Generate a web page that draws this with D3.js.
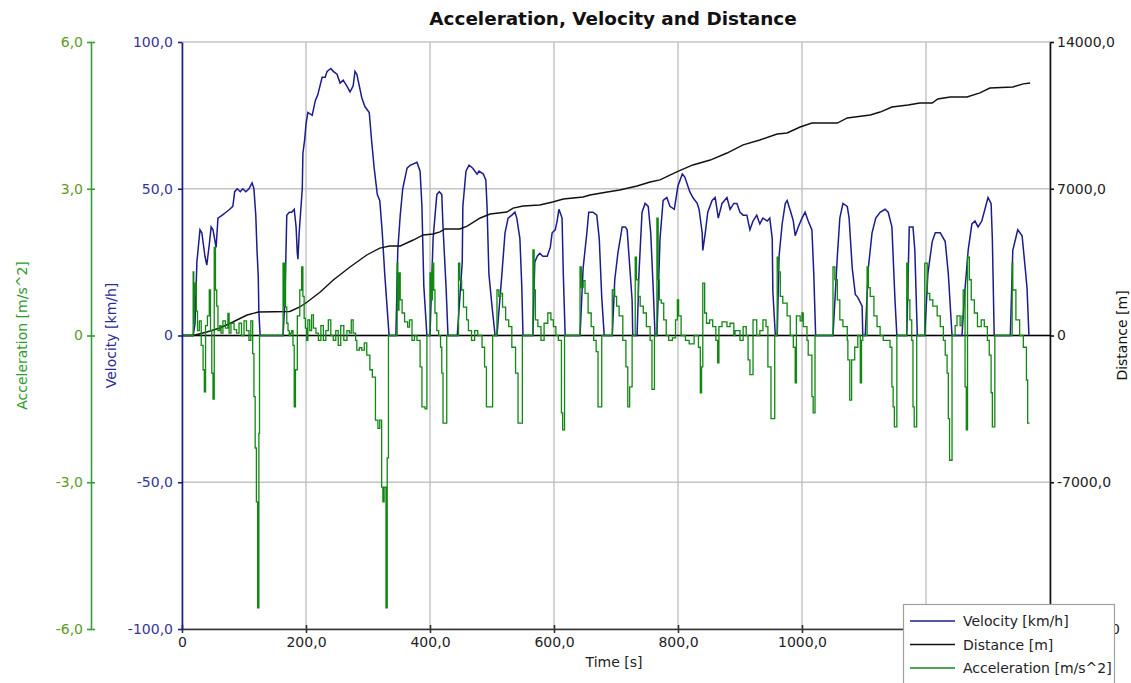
<!DOCTYPE html>
<html>
<head>
<meta charset="utf-8">
<script src="https://cdn.jsdelivr.net/npm/d3@7"></script>
<style>
  html, body { margin: 0; padding: 0; background: #fff; }
  svg { display: block; font-family: "DejaVu Sans", Verdana, sans-serif; }
</style>
</head>
<body>
<svg id="chart" width="1131" height="683"></svg>
<script>
// Tick values for each axis
const timeTicks = [0, 200, 400, 600, 800, 1000, 1200, 1400];
const timeLabelTicks = [0, 200, 400, 600, 800, 1000, 1200];
const velocityTicks = [-100, -50, 0, 50, 100];
const accelTicks = [-6, -3, 0, 3, 6];
const distanceTicks = [-14000, -7000, 0, 7000, 14000];

// Velocity [km/h] over time [s]
const velocity = [
  [0,0],[18,0],[21,4],[24,25],[29,36],[32,35],[37,27],[40,24],[44,31],[47,37],[50,36],[55,30],[58,40],[65,41],[71,42],[77,43],[82,44],[85,49],[89,50],[94,49],[98,50],[103,49],[108,50],[113,52],[116,50],[119,41],[121,29],[123,20],[124,8],[126,0],
  [163,0],[166,12],[169,41],[173,42],[177,42],[181,43],[184,37],[186,28],[187,26],[189,35],[194,50],[195,62],[198,67],[200,72],[203,76],[210,75],[215,80],[219,82],[226,88],[231,88],[234,90],[240,91],[244,90],[250,89],[255,86],[260,87],[266,85],[271,83],[276,85],[279,90],[282,89],[286,85],[290,81],[295,78],[302,76],[306,66],[310,57],[315,48],[319,46],[323,35],[327,21],[331,9],[334,0],
  [345,0],[348,29],[352,41],[356,50],[363,57],[368,58],[379,59],[384,56],[387,44],[390,17],[395,0],
  [400,0],[405,33],[411,48],[415,49],[419,48],[421,37],[426,16],[429,0],
  [444,0],[452,25],[453,44],[458,56],[463,58],[469,57],[476,55],[479,56],[486,55],[490,53],[492,44],[495,21],[500,10],[505,0],
  [508,0],[516,21],[521,35],[526,40],[532,41],[537,42],[540,40],[545,33],[548,17],[550,0],
  [566,0],[569,25],[573,27],[577,28],[582,27],[589,27],[594,30],[597,35],[602,36],[605,39],[608,43],[613,40],[615,21],[618,0],
  [642,0],[647,23],[653,35],[656,42],[663,42],[669,41],[673,33],[677,13],[681,0],
  [694,0],[698,19],[703,28],[710,37],[715,37],[718,36],[721,27],[726,12],[727,0],
  [734,0],[737,21],[742,42],[747,45],[752,44],[756,35],[760,16],[763,0],
  [766,0],[771,33],[776,46],[782,47],[787,44],[794,43],[800,51],[807,55],[811,54],[819,49],[824,47],[831,45],[834,43],[839,35],[840,29],[844,35],[848,42],[855,46],[860,47],[865,40],[871,45],[879,47],[884,43],[890,45],[895,45],[900,42],[905,41],[911,41],[916,36],[921,39],[927,41],[932,38],[937,40],[944,39],[948,40],[952,33],[953,15],[957,0],
  [960,0],[963,27],[968,38],[973,45],[976,46],[982,42],[986,39],[989,34],[994,37],[1000,40],[1005,42],[1010,39],[1016,36],[1019,21],[1022,0],
  [1050,0],[1057,27],[1061,40],[1066,45],[1073,44],[1076,40],[1081,23],[1086,14],[1090,13],[1097,10],[1098,0],
  [1102,0],[1107,23],[1113,35],[1119,40],[1126,42],[1134,43],[1139,42],[1145,37],[1150,12],[1153,0],
  [1169,0],[1173,37],[1179,37],[1182,29],[1186,0],
  [1198,0],[1203,21],[1210,32],[1215,35],[1223,35],[1231,32],[1236,21],[1242,0],
  [1258,0],[1263,16],[1268,29],[1274,38],[1279,39],[1284,37],[1290,39],[1295,43],[1300,47],[1305,45],[1307,33],[1310,0],
  [1336,0],[1340,29],[1348,36],[1355,34],[1360,23],[1363,16],[1366,0]
];

// Distance [m] over time [s]
const distance = [
  [0,0],[18,0],[40,167],[61,358],[82,644],[105,978],[123,1120],[174,1145],[190,1360],[202,1600],[223,2075],[244,2650],[271,3270],[298,3840],[319,4170],[335,4270],[352,4270],
  [373,4555],[389,4795],[405,4840],[416,4940],[424,5080],[448,5080],[460,5220],[481,5605],[497,5795],[524,5890],[534,6080],[550,6180],[577,6225],[598,6370],[615,6510],[647,6605],[658,6700],[686,6845],[706,6940],[734,7130],[755,7320],
  [771,7420],[798,7800],[824,8135],[852,8370],[879,8705],[905,9090],[932,9325],[960,9610],[976,9660],[997,9945],[1016,10135],[1057,10135],[1073,10375],[1110,10520],[1126,10660],[1145,10900],[1171,10995],[1190,11090],[1210,11090],[1219,11280],[1239,11375],[1266,11375],[1287,11570],[1303,11805],[1340,11855],[1357,12000],[1368,12045]
];

// Acceleration [m/s^2] over time [s], held constant between samples
const acceleration = [
  [0,0],[18,1.3],[19,0.25],[20,0.87],[21,1.07],[23,0.5],[25,0.1],[28,0.3],[31,-0.2],[34,-0.7],[36,-1.15],[38,0.2],[41,0.4],[44,0.93],[46,0.1],[48,-0.77],[50,-1.3],[52,1.8],[54,0.93],[56,0.6],[58,0.1],[61,0.2],[63,0.05],[66,0.3],[70,0.15],[74,0.45],[76,0.05],[79,0.25],[84,0.12],[88,0.05],[92,0.25],[96,0],[100,0.3],[104,0.1],[108,-0.1],[111,0.3],[114,-0.37],[116,-1.25],[118,-2.3],[120,-3.4],[122,-5.57],[124,-2.0],[125,0],
  [163,1.48],[164,0.6],[165,1.48],[167,0.58],[169,0.25],[171,0.1],[173,0],[175,0.05],[177,0.1],[179,-0.2],[181,-1.46],[183,-0.7],[186,0.4],[190,0.93],[193,1.4],[195,0.8],[197,0.35],[199,0.15],[201,-0.1],[203,0.32],[206,0.1],[209,0.42],[212,0.15],[216,0.05],[220,-0.1],[224,0.2],[228,-0.1],[232,0.1],[236,0.32],[240,0],[244,-0.1],[248,0.1],[252,-0.2],[256,0.2],[261,-0.1],[266,0.1],[270,0.05],[273,0.32],[276,0.05],[280,-0.1],[282,-0.3],[286,-0.25],[290,-0.3],[294,-0.15],[298,-0.4],[303,-0.7],[307,-0.85],[312,-1.73],[316,-1.9],[319,-1.73],[322,-3.1],[324,-3.4],[326,-3.1],[329,-5.57],[331,-2.5],[333,0],
  [345,0],[347,1.48],[348,0.52],[350,1.28],[352,0.73],[355,0.46],[359,0.28],[364,0.17],[367,0.32],[371,-0.1],[375,0],[379,-0.1],[384,-0.64],[387,-1.46],[392,-1.5],[395,0],
  [400,1.28],[402,0.73],[404,1.48],[406,0.93],[408,0.46],[411,0.1],[414,0],[417,-0.24],[419,-0.77],[421,-1.79],[427,0],
  [446,1.48],[448,1.13],[451,0.93],[454,0.58],[459,0.32],[462,0.1],[467,-0.1],[472,0.1],[477,0],[484,-0.24],[488,-0.64],[491,-1.46],[501,0],
  [508,0.93],[511,0.8],[514,0.86],[517,0.58],[522,0.32],[527,0.18],[532,-0.24],[538,-0.77],[542,-1.79],[549,0],
  [566,1.75],[568,0.93],[570,0.32],[574,0.18],[579,-0.1],[584,0.25],[590,0.46],[595,0.32],[599,0.18],[603,0],[607,-0.1],[612,-1.58],[614,-1.93],[617,0],
  [642,1.4],[644,0.98],[647,1.12],[650,0.86],[655,0.46],[660,0.18],[664,-0.1],[668,-0.33],[671,-1.46],[677,0],
  [694,0.93],[698,0.8],[701,0.6],[705,0.4],[711,-0.1],[716,-0.64],[719,-1.46],[722,-1.05],[726,0],
  [731,1.6],[733,1.14],[736,0.8],[739,0.6],[744,0.46],[749,0.18],[755,-0.1],[758,-1.1],[762,0],
  [766,2.4],[768,1.14],[770,0.73],[773,0.66],[777,0.32],[781,0],[785,-0.1],[791,-0.05],[796,0.32],[799,0.73],[801,0.4],[805,0],[812,-0.1],[818,-0.17],[826,0],[833,-0.24],[836,-1.17],[838,-0.64],[840,1.07],[843,0.46],[846,0.25],[851,0.32],[856,0.18],[861,-0.1],[864,-0.56],[866,0.18],[871,0.28],[879,0.18],[884,0.25],[890,0],[892,0.1],[900,-0.1],[905,0.18],[910,0],[913,-0.5],[916,-0.8],[921,0.32],[927,0],[932,0.1],[937,0.32],[942,0.18],[945,-0.64],[950,-1.7],[956,0],
  [960,1.6],[962,1.3],[965,0.8],[969,0.66],[976,0.4],[981,0],[986,-0.24],[989,-0.97],[991,0.4],[997,0.3],[1000,0.46],[1002,0.18],[1008,-0.1],[1010,-0.4],[1016,-1.25],[1018,-1.58],[1021,0],
  [1050,1.4],[1053,1.14],[1057,0.73],[1061,0.32],[1066,0.18],[1073,-0.1],[1074,-0.5],[1077,-1.32],[1080,-0.5],[1085,-0.24],[1090,0],[1094,-0.97],[1096,-0.1],[1098,0],
  [1105,1.4],[1107,0.98],[1110,0.8],[1116,0.4],[1121,0.18],[1126,0],[1131,-0.1],[1137,-0.1],[1142,-0.24],[1145,-1.05],[1147,-1.46],[1149,-1.87],[1153,0],
  [1169,1.48],[1171,0.73],[1174,0.32],[1177,-0.1],[1179,-1.46],[1181,-1.87],[1185,0],
  [1198,1.48],[1202,0.86],[1206,0.73],[1211,0.6],[1218,0.4],[1223,0.18],[1228,-0.1],[1231,-0.4],[1234,-0.77],[1236,-1.7],[1238,-2.55],[1242,0],
  [1247,0.2],[1250,0.4],[1255,0.2],[1258,0.4],[1260,0.93],[1263,-1.05],[1265,-1.93],[1267,1.6],[1270,1.14],[1273,0.73],[1278,0.46],[1283,0.18],[1289,0.32],[1294,0.18],[1299,-0.1],[1302,-0.4],[1305,-1.17],[1307,-1.87],[1311,0],
  [1339,1.48],[1340,0.93],[1345,0.32],[1351,0],[1357,-0.24],[1362,-0.91],[1364,-1.79],[1367,-1.79]
];

const seriesNames = ["Velocity [km/h]", "Distance [m]", "Acceleration [m/s^2]"];
const seriesColors = ["#1c1c8c", "#111111", "#118811"];

// Layout
const plot = { left: 182, right: 1050, top: 42, bottom: 629 };
const accelAxisX = 91;

const svg = d3.select("#chart");

const x = d3.scaleLinear().domain([0, 1400]).range([plot.left, plot.right]);
const yVel = d3.scaleLinear().domain([-100, 100]).range([plot.bottom, plot.top]);
const yAcc = d3.scaleLinear().domain([-6, 6]).range([plot.bottom, plot.top]);
const yDist = d3.scaleLinear().domain([-14000, 14000]).range([plot.bottom, plot.top]);

const fmt = d => d === 0 ? "0" : d.toFixed(1).replace(".", ",");

// Grid
const grid = svg.append("g").attr("stroke", "#c4c4c4").attr("stroke-width", 1.5);
grid.selectAll("line.v").data(timeTicks).join("line")
  .attr("x1", d => x(d)).attr("x2", d => x(d))
  .attr("y1", plot.top).attr("y2", plot.bottom);
grid.selectAll("line.h").data(velocityTicks).join("line")
  .attr("x1", plot.left).attr("x2", plot.right)
  .attr("y1", d => yVel(d)).attr("y2", d => yVel(d));

// Zero reference line
svg.append("line")
  .attr("x1", plot.left).attr("x2", plot.right)
  .attr("y1", yVel(0)).attr("y2", yVel(0))
  .attr("stroke", "#000").attr("stroke-width", 1.3);

// Series
const lineVel = d3.line().x(d => x(d[0])).y(d => yVel(d[1]));
const lineDist = d3.line().x(d => x(d[0])).y(d => yDist(d[1]));
const lineAcc = d3.line().x(d => x(d[0])).y(d => yAcc(d[1])).curve(d3.curveStepAfter);

svg.append("path").datum(velocity).attr("d", lineVel)
  .attr("fill", "none").attr("stroke", seriesColors[0]).attr("stroke-width", 1.5);
svg.append("path").datum(distance).attr("d", lineDist)
  .attr("fill", "none").attr("stroke", seriesColors[1]).attr("stroke-width", 1.4);
svg.append("path").datum(acceleration).attr("d", lineAcc)
  .attr("fill", "none").attr("stroke", seriesColors[2]).attr("stroke-width", 1.3);

// Axes
function styleAxis(g, lineColor, textColor, width) {
  g.select(".domain").attr("stroke", lineColor).attr("stroke-width", width);
  g.selectAll(".tick line").attr("stroke", lineColor).attr("stroke-width", width);
  g.selectAll(".tick text").attr("fill", textColor).style("font-size", "14px")
    .style("font-family", "'DejaVu Sans', Verdana, sans-serif");
}

const gX = svg.append("g").attr("transform", `translate(0,${plot.bottom})`)
  .call(d3.axisBottom(x).tickValues(timeLabelTicks).tickFormat(fmt).tickSizeInner(4).tickSizeOuter(0).tickPadding(4));
styleAxis(gX, "#333", "#222", 1.6);
gX.selectAll(".tick line").attr("y1", -4);

const gVel = svg.append("g").attr("transform", `translate(${plot.left},0)`)
  .call(d3.axisLeft(yVel).tickValues(velocityTicks).tickFormat(fmt).tickSizeInner(4).tickSizeOuter(0).tickPadding(5));
styleAxis(gVel, "#1c1c8c", "#34349a", 1.6);

const gAcc = svg.append("g").attr("transform", `translate(${accelAxisX},0)`)
  .call(d3.axisLeft(yAcc).tickValues(accelTicks).tickFormat(fmt).tickSizeInner(4).tickSizeOuter(0).tickPadding(4));
styleAxis(gAcc, "#3a9c3a", "#5e9a22", 1.6);
gAcc.selectAll(".tick line").attr("x1", 4);

const gDist = svg.append("g").attr("transform", `translate(${plot.right},0)`)
  .call(d3.axisRight(yDist).tickValues(distanceTicks).tickFormat(fmt).tickSizeInner(4).tickSizeOuter(0).tickPadding(3));
styleAxis(gDist, "#111", "#222", 1.6);

// Axis titles
const midY = (plot.top + plot.bottom) / 2;
svg.append("text").attr("transform", `translate(27,${midY}) rotate(-90)`)
  .attr("text-anchor", "middle").attr("fill", "#2e9a2e").style("font-size", "14px")
  .text("Acceleration [m/s^2]");
svg.append("text").attr("transform", `translate(116,${midY}) rotate(-90)`)
  .attr("text-anchor", "middle").attr("fill", "#2b2b9b").style("font-size", "14px")
  .text("Velocity [km/h]");
svg.append("text").attr("transform", `translate(1127,${midY}) rotate(-90)`)
  .attr("text-anchor", "middle").attr("fill", "#111").style("font-size", "14px")
  .text("Distance [m]");
svg.append("text").attr("x", 614).attr("y", 667)
  .attr("text-anchor", "middle").attr("fill", "#222").style("font-size", "14px")
  .text("Time [s]");

// Title
svg.append("text").attr("x", 613).attr("y", 25)
  .attr("text-anchor", "middle").attr("fill", "#111")
  .style("font-size", "18.4px").style("font-weight", "bold")
  .text("Acceleration, Velocity and Distance");

// Legend
const legend = svg.append("g").attr("transform", "translate(903,604)");
legend.append("rect").attr("x", 0.5).attr("y", 0.5).attr("width", 211).attr("height", 100)
  .attr("fill", "#fff").attr("stroke", "#a0a0a0").attr("stroke-width", 1.2);
const items = legend.selectAll("g.item").data(seriesNames).join("g")
  .attr("transform", (d, i) => `translate(0,${17 + i * 23.5})`);
items.append("line").attr("x1", 7).attr("x2", 52).attr("y1", 0).attr("y2", 0)
  .attr("stroke", (d, i) => seriesColors[i]).attr("stroke-width", 1.5);
items.append("text").attr("x", 60).attr("y", 5).attr("fill", "#222")
  .style("font-size", "14px").text(d => d);
</script>
</body>
</html>
